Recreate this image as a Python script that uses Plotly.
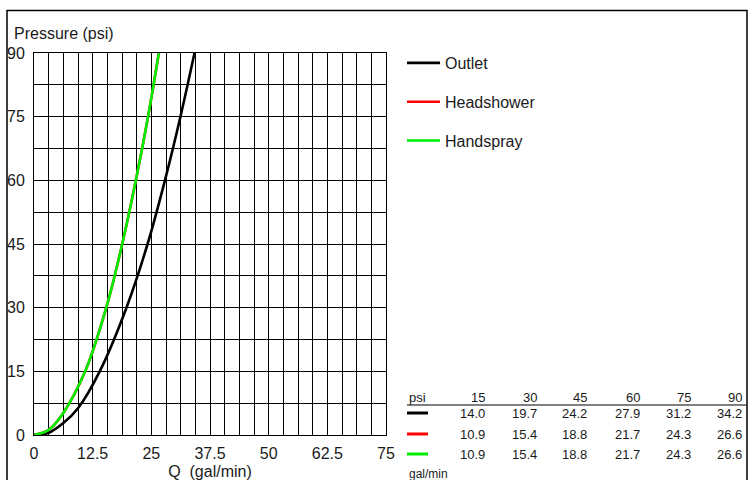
import plotly.graph_objects as go

# ---- data ----
psi_levels = [15, 30, 45, 60, 75, 90]
outlet_flow = [14.0, 19.7, 24.2, 27.9, 31.2, 34.2]
headshower_flow = [10.9, 15.4, 18.8, 21.7, 24.3, 26.6]
handspray_flow = [10.9, 15.4, 18.8, 21.7, 24.3, 26.6]

# low-pressure part of the curves
outlet_low_q = [0, 3.125, 6.25, 9.375]
outlet_low_p = [0, 0.5, 2.8, 6.3]
spray_low_q = [0, 3.125, 6.25]
spray_low_p = [0, 1.2, 5.2]

series_names = ["Outlet", "Headshower", "Handspray"]
series_colors = ["#000000", "#ff0000", "#00ee00"]

x_ticks = [0, 12.5, 25, 37.5, 50, 62.5, 75]
y_ticks = [0, 15, 30, 45, 60, 75, 90]

FONT = "Liberation Sans, Arial, sans-serif"
TXT = "#1a1a1a"

W, H = 748, 480
L, R, T, B = 34, 386, 53, 435  # plot area in pixels


def px(xp):
    return (xp - L) / (R - L)


def py(yp):
    return (B - yp) / (B - T)


fig = go.Figure()

curves = [
    (outlet_low_q + outlet_flow, outlet_low_p + psi_levels),
    (spray_low_q + headshower_flow, spray_low_p + psi_levels),
    (spray_low_q + handspray_flow, spray_low_p + psi_levels),
]
for i, (q, p) in enumerate(curves):
    fig.add_trace(go.Scatter(
        x=q, y=p, mode="lines", name=series_names[i],
        line=dict(color=series_colors[i], width=2.6, shape="spline", smoothing=1.0),
        legendgroup=series_names[i],
    ))

fig.update_layout(
    width=W, height=H,
    margin=dict(l=L, r=W - R, t=T, b=H - B, pad=0, autoexpand=False),
    paper_bgcolor="#ffffff", plot_bgcolor="#ffffff",
    font=dict(family=FONT, size=16, color=TXT),
    showlegend=True,
    legend=dict(
        x=px(402), y=py(46), xanchor="left", yanchor="top",
        font=dict(family=FONT, size=16, color=TXT),
        tracegroupgap=15, itemwidth=33, bgcolor="rgba(0,0,0,0)",
    ),
    xaxis=dict(
        range=[0, 75], tickvals=x_ticks, ticktext=[str(v) for v in x_ticks],
        showgrid=True, gridcolor="#000000", gridwidth=1,
        minor=dict(dtick=3.125, tick0=0, showgrid=True, gridcolor="#000000", gridwidth=1),
        showline=True, linecolor="#000000", linewidth=1, mirror=True,
        zeroline=False, ticks="", ticklabelstandoff=4,
        tickfont=dict(size=16, color=TXT), automargin=False,
        title=dict(text="Q  (gal/min)", standoff=5, font=dict(size=16, color=TXT)),
        fixedrange=True,
    ),
    yaxis=dict(
        range=[0, 90], tickvals=y_ticks, ticktext=[str(v) for v in y_ticks],
        showgrid=True, gridcolor="#000000", gridwidth=1,
        minor=dict(dtick=7.5, tick0=0, showgrid=True, gridcolor="#000000", gridwidth=1),
        showline=True, linecolor="#000000", linewidth=1, mirror=True,
        zeroline=False, ticks="", ticklabelstandoff=5,
        tickfont=dict(size=16, color=TXT), automargin=False,
        fixedrange=True,
    ),
)

shapes = []
annotations = []

# outer frame
shapes.append(dict(type="rect", xref="paper", yref="paper",
                   x0=px(7), x1=px(747), y0=py(482), y1=py(10.5),
                   line=dict(color="#000000", width=1.5), fillcolor="rgba(0,0,0,0)", layer="below"))

# y-axis title
annotations.append(dict(text="Pressure (psi)", xref="paper", yref="paper",
                        x=px(12), y=py(33), xanchor="left", yanchor="middle",
                        showarrow=False, font=dict(size=16, color=TXT)))

# data table
col_right = [486, 538, 588, 641, 692, 743]
header_y = 397
row_ys = [413, 434, 454]
tsize = 13

annotations.append(dict(text="psi", xref="paper", yref="paper", x=px(407), y=py(header_y),
                        xanchor="left", yanchor="middle", showarrow=False,
                        font=dict(size=tsize, color=TXT)))
for cx, v in zip(col_right, psi_levels):
    annotations.append(dict(text=str(v), xref="paper", yref="paper", x=px(cx + 1), y=py(header_y),
                            xanchor="right", yanchor="middle", showarrow=False,
                            font=dict(size=tsize, color=TXT)))
shapes.append(dict(type="line", xref="paper", yref="paper", x0=px(407), x1=px(746),
                   y0=py(405), y1=py(405), line=dict(color="#555555", width=1.5)))

table_rows = [outlet_flow, headshower_flow, handspray_flow]
for ry, vals, col in zip(row_ys, table_rows, series_colors):
    shapes.append(dict(type="line", xref="paper", yref="paper", x0=px(407), x1=px(428),
                       y0=py(ry), y1=py(ry), line=dict(color=col, width=3)))
    for cx, v in zip(col_right, vals):
        annotations.append(dict(text=f"{v:.1f}", xref="paper", yref="paper", x=px(cx + 1), y=py(ry),
                                xanchor="right", yanchor="middle", showarrow=False,
                                font=dict(size=tsize, color=TXT)))

annotations.append(dict(text="gal/min", xref="paper", yref="paper", x=px(407), y=py(474),
                        xanchor="left", yanchor="middle", showarrow=False,
                        font=dict(size=tsize - 1, color=TXT)))

fig.update_layout(shapes=shapes, annotations=annotations)

fig.write_html("out.html", config={"displayModeBar": False},
               post_script="document.body.style.margin='0px';")
